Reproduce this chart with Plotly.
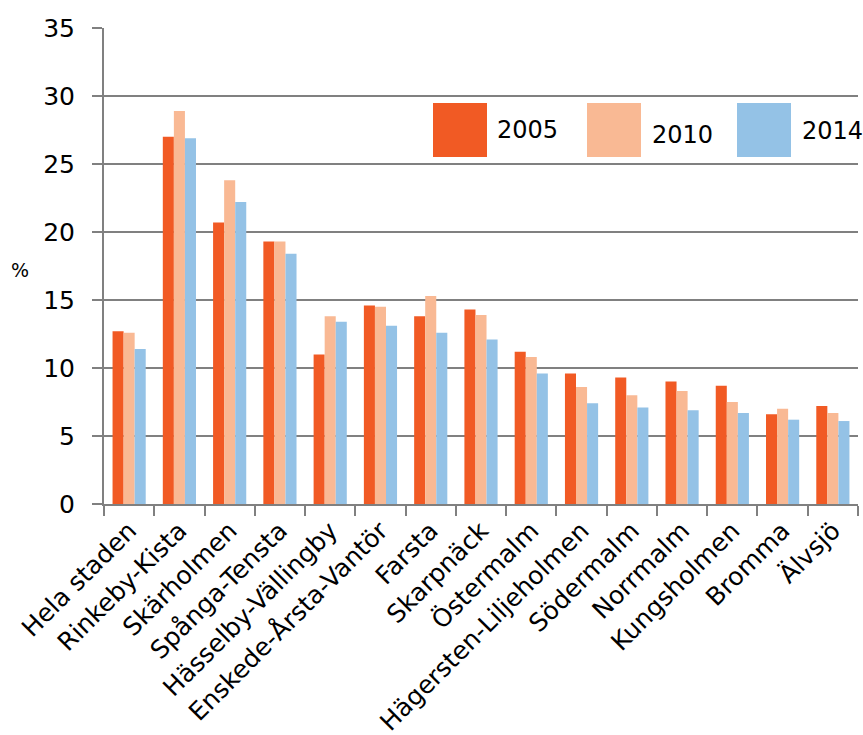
import plotly.graph_objects as go

categories = ["Hela staden", "Rinkeby-Kista", "Skärholmen", "Spånga-Tensta",
              "Hässelby-Vällingby", "Enskede-Årsta-Vantör", "Farsta", "Skarpnäck",
              "Östermalm", "Hägersten-Liljeholmen", "Södermalm", "Norrmalm",
              "Kungsholmen", "Bromma", "Älvsjö"]
v2005 = [12.7, 27.0, 20.7, 19.3, 11.0, 14.6, 13.8, 14.3, 11.2, 9.6, 9.3, 9.0, 8.7, 6.6, 7.2]
v2010 = [12.6, 28.9, 23.8, 19.3, 13.8, 14.5, 15.3, 13.9, 10.8, 8.6, 8.0, 8.3, 7.5, 7.0, 6.7]
v2014 = [11.4, 26.9, 22.2, 18.4, 13.4, 13.1, 12.6, 12.1, 9.6, 7.4, 7.1, 6.9, 6.7, 6.2, 6.1]
series_names = ["2005", "2010", "2014"]
colors = ["#F15A24", "#F9B994", "#94C2E6"]
yticks = [0, 5, 10, 15, 20, 25, 30, 35]

FONT = "DejaVu Sans"
fig = go.Figure()
for name, vals, col in zip(series_names, [v2005, v2010, v2014], colors):
    fig.add_trace(go.Bar(x=categories, y=vals, name=name, marker_color=col,
                         marker_line_width=0, showlegend=False))

# custom legend (large swatches)
leg_x = [(433, 487, 495), (587, 641, 650), (737, 791, 800)]
L, R, T, B = 104, 858, 28, 504
def px2x(p):
    return (p - L) / (R - L)
def py2y(p):
    return (B - p) / (B - T) * 35
for (x0, x1, tx), name, col, ty in zip(leg_x, series_names, colors, [130, 135, 131]):
    fig.add_shape(type="rect", xref="paper", yref="y", x0=px2x(x0), x1=px2x(x1),
                  y0=py2y(157), y1=py2y(103), fillcolor=col, line_width=0, layer="above")
    fig.add_annotation(xref="paper", yref="y", x=px2x(tx), y=py2y(ty), text=name,
                       showarrow=False, xanchor="left", yanchor="middle",
                       font=dict(family=FONT, size=24, color="black"))

fig.add_annotation(xref="paper", yref="paper", x=(20 - L) / (R - L), y=(B - 270) / (B - T),
                   text="%", showarrow=False, xanchor="center", yanchor="middle",
                   font=dict(family=FONT, size=19, color="black"))

fig.update_layout(
    width=863, height=735,
    margin=dict(l=L, r=863 - R, t=T, b=735 - B, autoexpand=False),
    plot_bgcolor="white", paper_bgcolor="white",
    barmode="group", bargap=0.34, bargroupgap=0,
    font=dict(family=FONT, size=24, color="black"),
    xaxis=dict(tickangle=-45, tickson="boundaries", ticks="outside", ticklen=10,
               tickcolor="#808080", tickwidth=2, showline=True, linecolor="#808080",
               linewidth=2, showgrid=False, automargin=False,
               tickfont=dict(family=FONT, size=25)),
    yaxis=dict(range=[0, 35], tickvals=yticks, ticks="outside",
               ticklen=10, tickcolor="#808080", tickwidth=2, showline=True,
               linecolor="#808080", linewidth=2, showgrid=True, gridcolor="#808080",
               gridwidth=2, zeroline=False, ticklabelstandoff=12, automargin=False,
               tickfont=dict(family=FONT, size=25)),
)
fig.write_html("out.html", config={"displayModeBar": False},
               post_script="document.body.style.margin='0';")
